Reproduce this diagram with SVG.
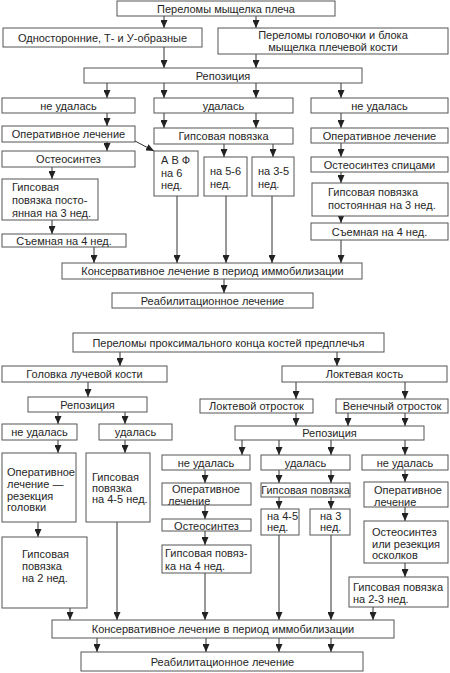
<svg xmlns="http://www.w3.org/2000/svg" width="450" height="673" viewBox="0 0 450 673">
<defs>
<marker id="ah" markerUnits="userSpaceOnUse" markerWidth="8" markerHeight="7" viewBox="0 0 8 7" refX="8" refY="3.5" orient="auto">
<path d="M0,0 L8,3.5 L0,7 z" fill="#222"/>
</marker>
<style>
rect{fill:#fff;stroke:#555;stroke-width:1}
text{font-family:"Liberation Sans",Arial,sans-serif;font-size:11px;fill:#262626}
.c{text-anchor:middle}
#connectors line{stroke:#333;stroke-width:1;marker-end:url(#ah)}
</style>
</defs>
<rect x="0" y="0" width="450" height="673" style="fill:#fff;stroke:none"/>
<g id="connectors">
<line x1="164" y1="16" x2="164" y2="28"/>
<line x1="256" y1="16" x2="256" y2="28"/>
<line x1="164" y1="47" x2="164" y2="68"/>
<line x1="256" y1="54" x2="256" y2="68"/>
<line x1="107" y1="83" x2="107" y2="98"/>
<line x1="164" y1="83" x2="164" y2="98"/>
<line x1="256" y1="83" x2="256" y2="98"/>
<line x1="341" y1="83" x2="341" y2="98"/>
<line x1="107" y1="113" x2="107" y2="126"/>
<line x1="164" y1="113" x2="164" y2="128"/>
<line x1="256" y1="113" x2="256" y2="128"/>
<line x1="341" y1="113" x2="341" y2="128"/>
<line x1="107" y1="142" x2="107" y2="151"/>
<line x1="135" y1="141" x2="154" y2="151"/>
<line x1="224" y1="144" x2="224" y2="157"/>
<line x1="273" y1="144" x2="273" y2="157"/>
<line x1="341" y1="143" x2="341" y2="157"/>
<line x1="52" y1="167" x2="52" y2="179"/>
<line x1="52" y1="220" x2="52" y2="234"/>
<line x1="341" y1="172" x2="341" y2="183"/>
<line x1="341" y1="216" x2="341" y2="223"/>
<line x1="94" y1="247" x2="94" y2="263"/>
<line x1="177" y1="196" x2="177" y2="263"/>
<line x1="226" y1="196" x2="226" y2="263"/>
<line x1="272" y1="196" x2="272" y2="263"/>
<line x1="341" y1="240" x2="341" y2="263"/>
<line x1="224" y1="279" x2="224" y2="293"/>
<line x1="120" y1="352" x2="120" y2="366"/>
<line x1="337" y1="352" x2="337" y2="366"/>
<line x1="88" y1="382" x2="88" y2="397"/>
<line x1="296" y1="382" x2="296" y2="399"/>
<line x1="405" y1="382" x2="405" y2="399"/>
<line x1="58" y1="412" x2="58" y2="424"/>
<line x1="125" y1="412" x2="125" y2="424"/>
<line x1="296" y1="413" x2="296" y2="426"/>
<line x1="348" y1="413" x2="348" y2="426"/>
<line x1="405" y1="413" x2="405" y2="426"/>
<line x1="242" y1="440" x2="242" y2="455"/>
<line x1="279" y1="440" x2="279" y2="455"/>
<line x1="331" y1="440" x2="331" y2="455"/>
<line x1="405" y1="440" x2="405" y2="455"/>
<line x1="58" y1="440" x2="58" y2="453"/>
<line x1="125" y1="440" x2="125" y2="453"/>
<line x1="38" y1="522" x2="38" y2="537"/>
<line x1="70" y1="608" x2="70" y2="620"/>
<line x1="117" y1="522" x2="117" y2="620"/>
<line x1="205" y1="470" x2="205" y2="483"/>
<line x1="205" y1="505" x2="205" y2="519"/>
<line x1="205" y1="531" x2="205" y2="545"/>
<line x1="205" y1="573" x2="205" y2="620"/>
<line x1="279" y1="470" x2="279" y2="483"/>
<line x1="331" y1="470" x2="331" y2="483"/>
<line x1="279" y1="497" x2="279" y2="509"/>
<line x1="331" y1="497" x2="331" y2="509"/>
<line x1="279" y1="535" x2="279" y2="620"/>
<line x1="331" y1="535" x2="331" y2="620"/>
<line x1="405" y1="470" x2="405" y2="482"/>
<line x1="405" y1="507" x2="405" y2="521"/>
<line x1="405" y1="563" x2="405" y2="577"/>
<line x1="373" y1="607" x2="373" y2="620"/>
<line x1="97" y1="638" x2="97" y2="652"/>
<line x1="206" y1="638" x2="206" y2="652"/>
<line x1="279" y1="638" x2="279" y2="652"/>
<line x1="331" y1="638" x2="331" y2="652"/>
</g>
<g id="n1"><rect x="117" y="1" width="218" height="15"/><text class="c" x="226" y="12.5">Переломы мыщелка плеча</text></g>
<g id="n2"><rect x="3" y="28" width="199" height="19"/><text class="c" x="102.5" y="41.5">Односторонние, Т- и У-образные</text></g>
<g id="n3"><rect x="218" y="28" width="230" height="26"/><text class="c" x="333" y="38.5">Переломы головочки и блока</text><text class="c" x="333" y="51">мыщелка плечевой кости</text></g>
<g id="n4"><rect x="84" y="68" width="278" height="15"/><text class="c" x="223" y="79.5">Репозиция</text></g>
<g id="n5"><rect x="2" y="98" width="133" height="15"/><text class="c" x="68.5" y="109.5">не удалась</text></g>
<g id="n6"><rect x="154" y="98" width="139" height="15"/><text class="c" x="223.5" y="109.5">удалась</text></g>
<g id="n7"><rect x="311" y="98" width="137" height="15"/><text class="c" x="379.5" y="109.5">не удалась</text></g>
<g id="n8"><rect x="2" y="126" width="133" height="16"/><text class="c" x="68.5" y="138">Оперативное лечение</text></g>
<g id="n9"><rect x="154" y="128" width="139" height="16"/><text class="c" x="223.5" y="140">Гипсовая повязка</text></g>
<g id="n10"><rect x="311" y="128" width="137" height="15"/><text class="c" x="379.5" y="139.5">Оперативное лечение</text></g>
<g id="n11"><rect x="2" y="151" width="133" height="16"/><text class="c" x="68.5" y="163">Остеосинтез</text></g>
<g id="n12"><rect x="154" y="151" width="44" height="45"/><text x="161" y="164">А В Ф</text><text x="161" y="177">на 6</text><text x="161" y="189">нед.</text></g>
<g id="n13"><rect x="204" y="157" width="43" height="39"/><text x="210" y="175">на 5-6</text><text x="210" y="188">нед.</text></g>
<g id="n14"><rect x="252" y="157" width="42" height="39"/><text x="258" y="175">на 3-5</text><text x="258" y="188">нед.</text></g>
<g id="n15"><rect x="311" y="157" width="137" height="15"/><text class="c" x="379.5" y="168.5">Остеосинтез спицами</text></g>
<g id="n16"><rect x="2" y="179" width="96" height="41"/><text x="12" y="191">Гипсовая</text><text x="12" y="204">повязка посто-</text><text x="12" y="216.5">янная на 3 нед.</text></g>
<g id="n17"><rect x="312" y="183" width="136" height="33"/><text x="328" y="196">Гипсовая повязка</text><text x="328" y="208.5">постоянная на 3 нед.</text></g>
<g id="n18"><rect x="2" y="234" width="124" height="13"/><text class="c" x="64" y="244.5">Съемная на 4 нед.</text></g>
<g id="n19"><rect x="311" y="223" width="137" height="17"/><text class="c" x="379.5" y="235.5">Съемная на 4 нед.</text></g>
<g id="n20"><rect x="62" y="263" width="300" height="16"/><text class="c" x="212.5" y="275">Консервативное лечение в период иммобилизации</text></g>
<g id="n21"><rect x="112" y="293" width="201" height="15"/><text class="c" x="212.5" y="304.5">Реабилитационное лечение</text></g>
<g id="m1"><rect x="73" y="333" width="311" height="19"/><text class="c" x="228.5" y="346.5">Переломы проксимального конца костей предплечья</text></g>
<g id="m2"><rect x="2" y="366" width="165" height="16"/><text class="c" x="84.5" y="378">Головка лучевой кости</text></g>
<g id="m3"><rect x="282" y="366" width="165" height="16"/><text class="c" x="364.5" y="378">Локтевая кость</text></g>
<g id="m4"><rect x="28" y="397" width="119" height="15"/><text class="c" x="87.5" y="408.5">Репозиция</text></g>
<g id="m5"><rect x="200" y="399" width="113" height="14"/><text class="c" x="256.5" y="410">Локтевой отросток</text></g>
<g id="m6"><rect x="336" y="399" width="112" height="14"/><text class="c" x="392" y="410">Венечный отросток</text></g>
<g id="m7"><rect x="235" y="426" width="189" height="14"/><text class="c" x="329.5" y="437">Репозиция</text></g>
<g id="m8"><rect x="2" y="424" width="75" height="16"/><text class="c" x="39.5" y="436">не удалась</text></g>
<g id="m9"><rect x="99" y="424" width="73" height="16"/><text class="c" x="135.5" y="436">удалась</text></g>
<g id="m10"><rect x="2" y="453" width="74" height="69"/><text x="7" y="476">Оперативное</text><text x="7" y="488">лечение —</text><text x="7" y="499.5">резекция</text><text x="7" y="511">головки</text></g>
<g id="m11"><rect x="86" y="453" width="64" height="69"/><text x="92" y="481">Гипсовая</text><text x="92" y="492">повязка</text><text x="92" y="502.5">на 4-5 нед.</text></g>
<g id="m12"><rect x="2" y="537" width="85" height="71"/><text x="22" y="558">Гипсовая</text><text x="22" y="570">повязка</text><text x="22" y="582">на 2 нед.</text></g>
<g id="m13"><rect x="162" y="455" width="88" height="15"/><text class="c" x="206" y="466.5">не удалась</text></g>
<g id="m14"><rect x="261" y="455" width="89" height="15"/><text class="c" x="305.5" y="466.5">удалась</text></g>
<g id="m15"><rect x="362" y="455" width="86" height="15"/><text class="c" x="405" y="466.5">не удалась</text></g>
<g id="m16"><rect x="162" y="483" width="89" height="22"/><text x="172" y="493">Оперативное</text><text x="168" y="505">лечение</text></g>
<g id="m17"><rect x="162" y="519" width="89" height="12"/><text class="c" x="206.5" y="529.5">Остеосинтез</text></g>
<g id="m18"><rect x="162" y="545" width="89" height="28"/><text x="165" y="557">Гипсовая повяз-</text><text x="165" y="570">ка на 4 нед.</text></g>
<g id="m19"><rect x="261" y="483" width="89" height="14"/><text class="c" x="305.5" y="494" style="font-size:10.8px">Гипсовая повязка</text></g>
<g id="m20"><rect x="261" y="509" width="38" height="26"/><text x="267" y="520">на 4-5</text><text x="267" y="531">нед.</text></g>
<g id="m21"><rect x="310" y="509" width="40" height="26"/><text x="320" y="520">на 3</text><text x="320" y="531">нед.</text></g>
<g id="m22"><rect x="364" y="482" width="84" height="25"/><text x="374" y="494">Оперативное</text><text x="374" y="506">лечение</text></g>
<g id="m23"><rect x="364" y="521" width="84" height="42"/><text x="372" y="536">Остеосинтез</text><text x="372" y="547.5">или резекция</text><text x="372" y="559">осколков</text></g>
<g id="m24"><rect x="349" y="577" width="99" height="30"/><text x="353" y="591">Гипсовая повязка</text><text x="353" y="602.5">на 2-3 нед.</text></g>
<g id="m25"><rect x="52" y="620" width="342" height="18"/><text class="c" x="223" y="633">Консервативное лечение в период иммобилизации</text></g>
<g id="m26"><rect x="81" y="652" width="282" height="19"/><text class="c" x="222.5" y="665.5">Реабилитационное лечение</text></g>
</svg>
